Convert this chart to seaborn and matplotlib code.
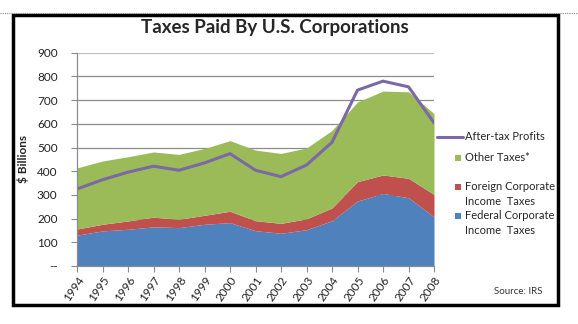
import matplotlib
matplotlib.use("Agg")
import matplotlib.pyplot as plt
from matplotlib.patches import Rectangle
from matplotlib.lines import Line2D
import seaborn as sns
import pandas as pd

years = list(range(1994, 2009))
federal = [130, 148, 155, 165, 162, 176, 183, 149, 138, 153, 191, 274, 306, 288, 207]
foreign = [26, 28, 35, 41, 35, 38, 48, 42, 42, 46, 54, 82, 78, 82, 95]
other = [258, 267, 271, 275, 274, 282, 298, 298, 295, 299, 327, 336, 354, 365, 341]
profits = [325, 364, 396, 421, 404, 435, 474, 404, 377, 426, 522, 742, 780, 756, 604]
yticks = [0, 100, 200, 300, 400, 500, 600, 700, 800, 900]
ytick_labels = ["--", "100", "200", "300", "400", "500", "600", "700", "800", "900"]

labels = ["After-tax Profits", "Other Taxes*", "Foreign Corporate\nIncome  Taxes",
          "Federal Corporate\nIncome  Taxes"]
c_fed, c_for, c_oth, c_line = "#4F81BD", "#C0504D", "#9BBB59", "#7B68A6"

sns.set_style("white")
plt.rcParams["font.family"] = ["Lato", "DejaVu Sans"]

df = pd.DataFrame({"year": years, "profits": profits})

fig = plt.figure(figsize=(5.78, 3.24), dpi=100)
ax = fig.add_axes([77 / 578, 1 - 266 / 324, (434 - 77) / 578, (266 - 52.7) / 324])

ax.stackplot(years, federal, foreign, other, colors=[c_fed, c_for, c_oth], linewidth=0)
sns.lineplot(data=df, x="year", y="profits", ax=ax, color=c_line, linewidth=2.2)

ax.set_xlim(years[0], years[-1])
ax.set_ylim(0, 900)
ax.set_yticks(yticks)
ax.set_yticklabels(ytick_labels, fontsize=8.5, color="#222222")
ax.set_xticks(years)
ax.set_xticklabels([str(y) for y in years], fontsize=8.5, color="#222222",
                   rotation=55, ha="right", rotation_mode="anchor")
ax.set_xlabel("")
ax.set_ylabel("$ Billions", fontsize=8.5, fontweight="bold")
ax.yaxis.set_label_coords(-0.135, 0.5)

for v in yticks[1:]:
    ax.axhline(v, color="#BFBFBF" if v == 900 else "#8C8C8C", lw=0.9, zorder=0.5)
for s in ["top", "right"]:
    ax.spines[s].set_visible(False)
for s in ["left", "bottom"]:
    ax.spines[s].set_color("#8C8C8C")
    ax.spines[s].set_linewidth(0.9)
ax.tick_params(axis="both", which="both", length=4, width=0.8, color="#8C8C8C",
               direction="out", bottom=True, left=True, pad=2)
ax.tick_params(axis="y", pad=10)

fig.text(275 / 578, 1 - 27 / 324, "Taxes Paid By U.S. Corporations", ha="center",
         va="center", fontsize=13.5, fontweight="bold")

# legend (manual layout)
fig.add_artist(Line2D([437 / 578, 463 / 578], [1 - 137 / 324, 1 - 137 / 324],
                      color=c_line, lw=2.2, transform=fig.transFigure))
fig.text(465 / 578, 1 - 137 / 324, labels[0], fontsize=8, va="center", ha="left")
sq = 6
for col, yc, lab in [(c_oth, 158, labels[1]), (c_for, 187, labels[2]), (c_fed, 216, labels[3])]:
    fig.add_artist(Rectangle(((458 - sq / 2) / 578, 1 - (yc + sq / 2) / 324), sq / 578, sq / 324,
                             facecolor=col, edgecolor="none", transform=fig.transFigure))
    fig.text(465 / 578, 1 - (yc - 6) / 324, lab, fontsize=8, va="top", ha="left",
             linespacing=1.4)

fig.text(543 / 578, 1 - 292 / 324, "Source: IRS", fontsize=7, ha="right", va="center",
         color="#333333")

# frame
fig.add_artist(Rectangle((13 / 578, 1 - 305 / 324), (558 - 13) / 578, (305 - 15) / 324,
                         fill=False, edgecolor="black", lw=2.5, transform=fig.transFigure))
fig.add_artist(Line2D([0, 1], [1 - 13 / 324, 1 - 13 / 324], color="#888888", lw=0.8,
                      linestyle=(0, (1, 1)), transform=fig.transFigure))

fig.savefig("out.png", dpi=100)
